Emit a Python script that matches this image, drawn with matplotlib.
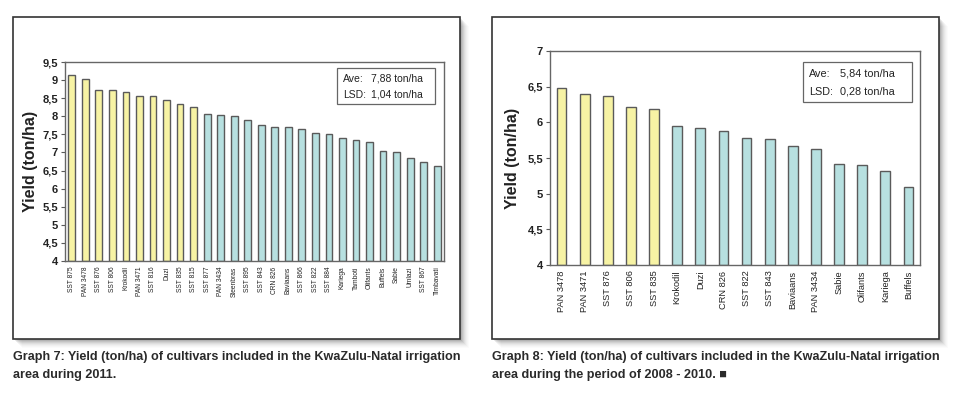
import matplotlib
matplotlib.use("Agg")
import matplotlib.pyplot as plt
from matplotlib import font_manager
from matplotlib.patches import Rectangle
from matplotlib.ticker import FuncFormatter
import numpy as np

# graph 7 - 2011
names_2011 = ["SST 875", "PAN 3478", "SST 876", "SST 806", "Krokodil", "PAN 3471",
              "SST 816", "Duzi", "SST 835", "SST 815", "SST 877", "PAN 3434",
              "Steenbras", "SST 895", "SST 843", "CRN 826", "Baviaans", "SST 866",
              "SST 822", "SST 884", "Kariega", "Tamboti", "Olifants", "Buffels",
              "Sabie", "Umlazi", "SST 867", "Timbavati"]
yield_2011 = [9.13, 9.02, 8.73, 8.72, 8.68, 8.56, 8.56, 8.46, 8.35, 8.26,
              8.05, 8.04, 8.02, 7.89, 7.75, 7.70, 7.69, 7.65, 7.53, 7.51,
              7.41, 7.34, 7.29, 7.05, 7.02, 6.85, 6.74, 6.62]
n_top_2011 = 10

# graph 8 - 2008-2010
names_0810 = ["PAN 3478", "PAN 3471", "SST 876", "SST 806", "SST 835", "Krokodil",
              "Duzi", "CRN 826", "SST 822", "SST 843", "Baviaans", "PAN 3434",
              "Sabie", "Olifants", "Kariega", "Buffels"]
yield_0810 = [6.48, 6.40, 6.37, 6.22, 6.19, 5.95, 5.92, 5.88, 5.78, 5.76,
              5.67, 5.62, 5.42, 5.40, 5.32, 5.10]
n_top_0810 = 5

caption_7 = ["Graph 7: Yield (ton/ha) of cultivars included in the KwaZulu-Natal irrigation",
             "area during 2011."]
caption_8 = ["Graph 8: Yield (ton/ha) of cultivars included in the KwaZulu-Natal irrigation",
             "area during the period of 2008 - 2010. \u25A0"]

YELLOW = "#f7f3a4"
BLUE = "#b7e0e0"
EDGE = "#5a5a5a"
TXT = "#222222"
FONT = "Liberation Sans"

installed = {f.name for f in font_manager.fontManager.ttflist}
CAP_FONT = "Liberation Sans Narrow" if "Liberation Sans Narrow" in installed else FONT

W, H = 960, 397
fig = plt.figure(figsize=(W / 100, H / 100), dpi=100)


def px(x, y, w, h):
    # pixel box (top-left origin) -> figure fraction
    return [x / W, 1 - (y + h) / H, w / W, h / H]


def frame(x, y, w, h):
    # soft drop shadow then the white frame
    for i, a in enumerate([0.08, 0.07, 0.05, 0.04, 0.03, 0.025, 0.02, 0.015]):
        d = 2 + i
        fig.patches.append(Rectangle((((x + d) / W), 1 - (y + h + d) / H), w / W, h / H,
                                     transform=fig.transFigure, facecolor="k",
                                     edgecolor="none", alpha=a, zorder=0))
    fig.patches.append(Rectangle((x / W, 1 - (y + h) / H), w / W, h / H,
                                 transform=fig.transFigure, facecolor="white",
                                 edgecolor="#333333", lw=1.2, zorder=1))


def stats_box(x, y, w, h, ave, lsd, vx, fs):
    fig.patches.append(Rectangle((x / W, 1 - (y + h) / H), w / W, h / H,
                                 transform=fig.transFigure, facecolor="white",
                                 edgecolor="#666666", lw=0.9, zorder=5))
    for k, (lab, val) in enumerate([("Ave:", ave), ("LSD:", lsd)]):
        yy = y + h * (0.30 + 0.44 * k)
        fig.text((x + 6) / W, 1 - yy / H, lab, fontsize=fs, va="center",
                 color=TXT, family=FONT, zorder=6)
        fig.text(vx / W, 1 - yy / H, val, fontsize=fs, va="center",
                 color=TXT, family=FONT, zorder=6)


def panel(rect, names, vals, n_top, ylim, step, width, xfs, ylabel_x):
    ax = fig.add_axes(rect)
    ax.set_zorder(3)
    x = np.arange(len(names))
    colors = [YELLOW if i < n_top else BLUE for i in range(len(names))]
    ax.bar(x, np.array(vals) - ylim[0], bottom=ylim[0], width=width,
           color=colors, edgecolor=EDGE, linewidth=1.0)
    ax.set_xlim(-0.5, len(names) - 0.5)
    ax.set_ylim(*ylim)
    ax.set_yticks(np.arange(ylim[0], ylim[1] + 0.01, step))
    ax.yaxis.set_major_formatter(FuncFormatter(
        lambda v, p: ("%g" % v).replace(".", ",")))
    ax.set_xticks(x)
    ax.set_xticklabels(names, rotation=90, fontsize=xfs, color=TXT, family=FONT)
    ax.tick_params(axis="x", length=0, pad=4)
    ax.tick_params(axis="y", length=3, width=0.8, color=EDGE, labelsize=8,
                   labelcolor=TXT, pad=2)
    for t in ax.get_yticklabels():
        t.set_fontweight("bold")
        t.set_family(FONT)
    for s in ax.spines.values():
        s.set_color("#666666")
        s.set_linewidth(1.0)
    ax.set_ylabel("Yield (ton/ha)", fontsize=11.5, fontweight="bold",
                  color=TXT, family=FONT)
    ax.yaxis.set_label_coords(ylabel_x, 0.5)
    return ax


def caption(x, lines, max_w):
    # shrink the font until the long line fits the frame width
    r = fig.canvas.get_renderer()
    fs = 10.5
    t = fig.text(x / W, 1 - 357 / H, lines[0], fontsize=fs, fontweight="bold",
                 color="#2a2a2a", family=CAP_FONT, va="center")
    wpx = t.get_window_extent(r).width
    if wpx > max_w:
        fs = fs * max_w / wpx
        t.set_fontsize(fs)
    fig.text(x / W, 1 - 375 / H, lines[1], fontsize=fs, fontweight="bold",
             color="#2a2a2a", family=[CAP_FONT, "DejaVu Sans"], va="center")


frame(13, 17, 447, 322)
frame(492, 17, 447, 322)

panel(px(65, 62, 379, 199), names_2011, yield_2011, n_top_2011,
      (4, 9.5), 0.5, 0.5, 4.8, -0.07)
panel(px(550, 51, 370, 214), names_0810, yield_0810, n_top_0810,
      (4, 7), 0.5, 0.42, 6.7, -0.08)

stats_box(337, 68, 98, 36, "7,88 ton/ha", "1,04 ton/ha", 371, 7.5)
stats_box(803, 62, 109, 40, "5,84 ton/ha", "0,28 ton/ha", 840, 7.8)

caption(13, caption_7, 447)
caption(492, caption_8, 447)

fig.savefig("out.png", dpi=100)
